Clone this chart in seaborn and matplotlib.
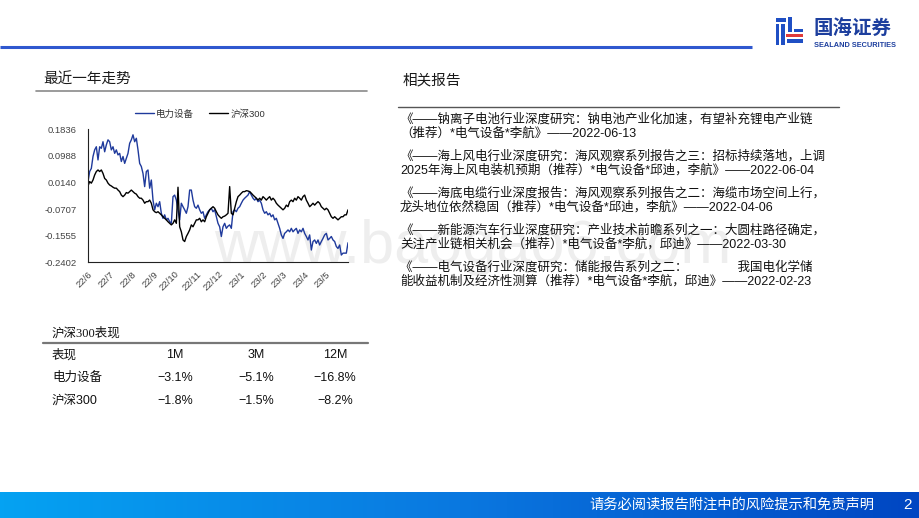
import numpy as np
import pandas as pd
import matplotlib
matplotlib.use('Agg')
import matplotlib.pyplot as plt
import matplotlib.patches as mpatches
from matplotlib.colors import LinearSegmentedColormap
import seaborn as sns

# ---- data ----
series_names = ['电力设备', '沪深300']

power_equip = [
    0.017, 0.049, 0.059, 0.097, 0.118, 0.128, 0.086, 0.128, 0.123, 0.144,
    0.112, 0.134, 0.150, 0.144, 0.118, 0.128, 0.107, 0.118, 0.102, 0.107,
    0.081, 0.097, 0.075, 0.091, 0.107, 0.139, 0.150, 0.166, 0.144, 0.155,
    0.118, 0.075, 0.065, 0.043, 0.001, 0.049, 0.054, -0.004, 0.022, -0.042,
    -0.073, -0.052, -0.063, -0.047, -0.084, -0.100, -0.089, -0.105, -0.100, -0.111,
    -0.116, -0.031, -0.026, -0.042, -0.073, -0.105, -0.052, -0.063, -0.073, -0.084,
    -0.063, -0.010, -0.010, -0.042, -0.063, -0.068, -0.058, -0.073, -0.084, -0.079,
    -0.100, -0.089, -0.079, -0.073, -0.068, -0.079, -0.073, -0.095, -0.116, -0.127,
    -0.158, -0.127, -0.116, -0.132, -0.125, -0.121, -0.132, -0.079, -0.073, -0.079,
    -0.068, -0.063, -0.052, -0.042, -0.036, -0.031, -0.026, -0.015, -0.026, -0.036,
    -0.042, -0.036, -0.047, -0.042, -0.052, -0.073, -0.084, -0.079, -0.089, -0.084,
    -0.095, -0.089, -0.105, -0.100, -0.116, -0.132, -0.153, -0.164, -0.148, -0.143,
    -0.137, -0.143, -0.132, -0.143, -0.137, -0.132, -0.148, -0.137, -0.143, -0.132,
    -0.148, -0.158, -0.169, -0.153, -0.201, -0.174, -0.169, -0.180, -0.169, -0.185,
    -0.174, -0.164, -0.153, -0.148, -0.169, -0.164, -0.158, -0.169, -0.174, -0.190,
    -0.196, -0.185, -0.217, -0.211, -0.211, -0.211, -0.178,
]

hs300 = [
    0.003, 0.017, 0.012, 0.022, 0.038, 0.049, 0.054, 0.049, 0.054, 0.043,
    0.027, 0.022, 0.012, 0.006, 0.003, -0.001, -0.004, -0.004, -0.010, -0.015,
    -0.026, -0.031, -0.026, -0.018, -0.020, -0.015, -0.010, -0.015, -0.020, -0.023,
    -0.031, -0.036, -0.036, -0.042, -0.052, -0.047, -0.047, -0.042, -0.052, -0.073,
    -0.079, -0.082, -0.079, -0.084, -0.089, -0.095, -0.100, -0.105, -0.111, -0.116,
    -0.121, -0.116, -0.105, -0.116, -0.001, -0.127, -0.143, -0.169, -0.174, -0.158,
    -0.148, -0.137, -0.121, -0.127, -0.116, -0.105, -0.105, -0.100, -0.111, -0.105,
    -0.111, -0.095, -0.084, -0.073, -0.068, -0.063, -0.068, -0.079, -0.089, -0.095,
    -0.100, -0.095, -0.093, -0.089, -0.084, 0.001, -0.084, -0.089, -0.068, -0.047,
    -0.031, -0.026, -0.020, -0.015, -0.015, -0.012, -0.013, -0.015, -0.020, -0.026,
    -0.031, -0.036, -0.042, -0.036, -0.042, -0.031, -0.036, -0.042, -0.036, -0.031,
    -0.042, -0.036, -0.042, -0.052, -0.058, -0.063, -0.068, -0.073, -0.068, -0.058,
    -0.063, -0.047, -0.042, -0.047, -0.036, -0.042, -0.031, -0.036, -0.042, -0.031,
    -0.026, -0.042, -0.052, -0.063, -0.058, -0.052, -0.058, -0.052, -0.047, -0.052,
    -0.063, -0.068, -0.073, -0.068, -0.073, -0.084, -0.095, -0.100, -0.095, -0.100,
    -0.105, -0.100, -0.095, -0.095, -0.089, -0.089, -0.073,
]

y_ticks = [0.1836, 0.0988, 0.0140, -0.0707, -0.1555, -0.2402]
month_starts = pd.date_range('2022-06-01', '2023-06-01', freq='MS')
month_labels = ['22/6', '22/7', '22/8', '22/9', '22/10', '22/11', '22/12',
                '23/1', '23/2', '23/3', '23/4', '23/5', '']

perf_cols = ['表现', '1M', '3M', '12M']
perf_rows = ['电力设备', '沪深300']
perf_values = [['−3.1%', '−5.1%', '−16.8%'],
               ['−1.8%', '−1.5%', '−8.2%']]

reports = [
    ('《——钠离子电池行业深度研究：钠电池产业化加速，有望补充锂电产业链',
     '（推荐）*电气设备*李航》——2022-06-13'),
    ('《——海上风电行业深度研究：海风观察系列报告之三：招标持续落地，上调',
     '2025年海上风电装机预期（推荐）*电气设备*邱迪，李航》——2022-06-04'),
    ('《——海底电缆行业深度报告：海风观察系列报告之二：海缆市场空间上行，',
     '龙头地位依然稳固（推荐）*电气设备*邱迪，李航》——2022-04-06'),
    ('《——新能源汽车行业深度研究：产业技术前瞻系列之一：大圆柱路径确定，',
     '关注产业链相关机会（推荐）*电气设备*李航，邱迪》——2022-03-30'),
    ('《——电气设备行业深度研究：储能报告系列之二：\u3000\u3000\u3000\u3000我国电化学储',
     '能收益机制及经济性测算（推荐）*电气设备*李航，邱迪》——2022-02-23'),
]

dates = pd.date_range('2022-06-01', '2023-06-01', periods=len(power_equip))
df = pd.DataFrame({
    'date': np.concatenate([dates, dates]),
    'value': power_equip + hs300,
    'series': [series_names[0]] * len(power_equip) + [series_names[1]] * len(hs300),
})

# ---- style ----
sns.set_style('white')
plt.rcParams['font.family'] = ['Liberation Sans', 'Noto Sans CJK SC']
plt.rcParams['axes.unicode_minus'] = False

W, H = 920, 518
fig = plt.figure(figsize=(W / 100, H / 100), dpi=100)

# full-slide overlay in pixel coordinates
bg = fig.add_axes([0, 0, 1, 1])
bg.set_xlim(0, W)
bg.set_ylim(H, 0)
bg.axis('off')

# header rule + logo
bg.plot([0, 752], [47, 47], color='#2f58cf', lw=2.2, solid_capstyle='butt')
for (x0, y0, w, h, c) in [(776, 18, 10, 3.5, '#1f4fc4'), (776, 24, 3.5, 21, '#1f4fc4'),
                          (781.5, 24, 3.5, 21, '#1f4fc4'), (788, 17, 4, 15, '#1f4fc4'),
                          (786, 33.5, 17, 3.5, '#e03a3a'), (787, 39, 16, 4, '#1f4fc4'),
                          (794, 28.5, 9, 3, '#1f4fc4')]:
    bg.add_patch(mpatches.Rectangle((x0, y0), w, h, color=c, lw=0))
bg.text(853, 29, '国海证券', ha='center', va='center', fontsize=14,
        fontweight='bold', color='#1d3f9e')
bg.text(855, 45.5, 'SEALAND SECURITIES', ha='center', va='center', fontsize=5.3,
        fontweight='bold', color='#1d3f9e')

# watermark
bg.text(214, 263, 'www.baogao6.com', ha='left', va='baseline', fontsize=44,
        color='#eeeeee', zorder=0)

# section titles
bg.text(43, 80, '最近一年走势', ha='left', va='center', fontsize=10.5, color='#1a1a1a')
bg.plot([36, 367], [91, 91], color='#8a8a8a', lw=1.2)
bg.text(403, 80, '相关报告', ha='left', va='center', fontsize=10.5, color='#1a1a1a')
bg.plot([398, 839], [107, 107], color='#555555', lw=1.0)

# related reports
for i, (l1, l2) in enumerate(reports):
    y = 119 + i * 37
    bg.text(400, y, l1, ha='left', va='center', fontsize=9, color='#111111', zorder=3)
    bg.text(400, y + 14.5, l2, ha='left', va='center', fontsize=9, color='#111111', zorder=3)

# performance table
bg.text(52, 333, '沪深300表现', ha='left', va='center', fontsize=9, color='#111111',
        family=['Liberation Serif', 'Noto Sans CJK SC'])
bg.plot([43, 368], [343, 343], color='#777777', lw=1.6)
col_x = [52, 175, 256, 335]
for j, c in enumerate(perf_cols):
    bg.text(col_x[j], 355, c, ha='left' if j == 0 else 'center', va='center',
            fontsize=9, color='#111111')
for i, r in enumerate(perf_rows):
    yy = 378 + i * 22.5
    bg.text(col_x[0], yy, r, ha='left', va='center', fontsize=9, color='#111111')
    for j, v in enumerate(perf_values[i]):
        bg.text(col_x[j + 1], yy, v, ha='center', va='center', fontsize=9, color='#111111')

# footer gradient bar
cmap = LinearSegmentedColormap.from_list('foot', ['#05a2f2', '#0a78e0', '#0046c2'])
bg.imshow(np.linspace(0, 1, 256)[None, :], extent=[0, W, H, 492], aspect='auto',
          cmap=cmap, zorder=1)
bg.set_xlim(0, W)
bg.set_ylim(H, 0)
bg.text(589, 505, '请务必阅读报告附注中的风险提示和免责声明', ha='left', va='center',
        fontsize=10.3, color='white', zorder=2)
bg.text(908, 505, '2', ha='center', va='center', fontsize=11, color='white', zorder=2)

# ---- line chart ----
ax = fig.add_axes([88 / W, (H - 262.3) / H, 260 / W, 133 / H])
ax.patch.set_alpha(0)
sns.lineplot(data=df, x='date', y='value', hue='series', hue_order=series_names,
             palette={'电力设备': '#1f3a9c', '沪深300': '#000000'},
             linewidth=1.0, ax=ax)

ax.set_xlim(month_starts[0], month_starts[-1])
ax.set_ylim(y_ticks[-1], y_ticks[0])
ax.set_yticks(y_ticks)
ax.set_yticklabels([f'{t:.4f}' for t in y_ticks])
ax.set_xticks(month_starts)
ax.set_xticklabels(month_labels, rotation=45, ha='right', rotation_mode='anchor')
ax.set_xlabel('')
ax.set_ylabel('')
ax.tick_params(axis='both', labelsize=6.8, labelcolor='#444444', length=2.2,
               width=0.7, color='#222222', direction='out')
ax.tick_params(axis='y', pad=6)
ax.tick_params(axis='x', pad=3)
for s in ['top', 'right']:
    ax.spines[s].set_visible(False)
for s in ['left', 'bottom']:
    ax.spines[s].set_color('#222222')
    ax.spines[s].set_linewidth(0.8)

ax.legend(loc='center', bbox_to_anchor=(0.43, 1.115), ncol=2, frameon=False,
          fontsize=6.8, handlelength=2.0, handletextpad=0.25, columnspacing=1.6,
          labelcolor='#333333')

fig.savefig('out.png', dpi=100)
